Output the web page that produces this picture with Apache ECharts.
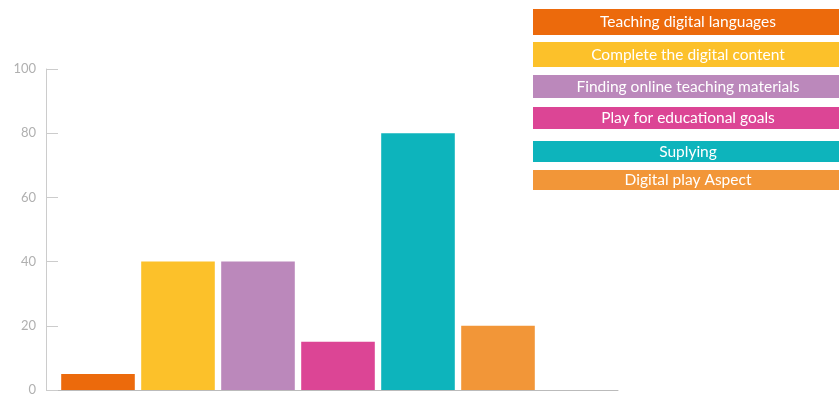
<!DOCTYPE html>
<html><head><meta charset="utf-8">
<script src="https://cdn.jsdelivr.net/npm/echarts@6/dist/echarts.min.js"></script>
<style>html,body{margin:0;padding:0;background:#fff}#c{width:839px;height:416px}</style>
</head><body><div id="c"></div>
<script>
var categories = ['Teaching digital languages','Complete the digital content','Finding online teaching materials','Play for educational goals','Suplying','Digital play Aspect'];
var values = [5, 40, 40, 15, 80, 20];
var colors = ['#ec6a0c','#fcc12a','#bb88bb','#dc4595','#0db4bc','#f29638'];
var yTicks = [0, 20, 40, 60, 80, 100];

var chart = echarts.init(document.getElementById('c'));
var legendTops = [9, 42, 75, 107, 141, 170];
var legendHeights = [26, 25, 23, 22, 21, 20];
var graphics = [];
categories.forEach(function(name, i){
  graphics.push({type:'rect', left:533, top:legendTops[i], shape:{width:320, height:legendHeights[i]}, style:{fill:colors[i]}});
  graphics.push({type:'text', x:688, y:legendTops[i]+legendHeights[i]/2, style:{text:name, fill:'#fff', font:'15.5px Lato', align:'center', verticalAlign:'middle'}});
});
chart.setOption({
  animation:false,
  grid:{left:58, right:221, top:69, bottom:26},
  graphic: graphics,
  xAxis:{type:'category', data:categories.concat(['']), axisLine:{lineStyle:{color:'#bbb'}}, axisTick:{show:false}, axisLabel:{show:false}},
  yAxis:{type:'value', min:0, max:100, interval:20, offset:12,
    axisLine:{show:true, lineStyle:{color:'#ccc'}},
    axisTick:{show:true, inside:true, length:12, lineStyle:{color:'#ccc'}},
    splitLine:{show:false},
    axisLabel:{color:'#b0b0b0', fontSize:13, fontFamily:'Lato', margin:10,
      formatter:function(v){return yTicks.indexOf(v)>=0? String(v):'';}}},
  series:[{type:'bar', barCategoryGap:'8%',
    data: values.map(function(v,i){return {value:v, itemStyle:{color:colors[i]}};})}]
});
</script></body></html>
